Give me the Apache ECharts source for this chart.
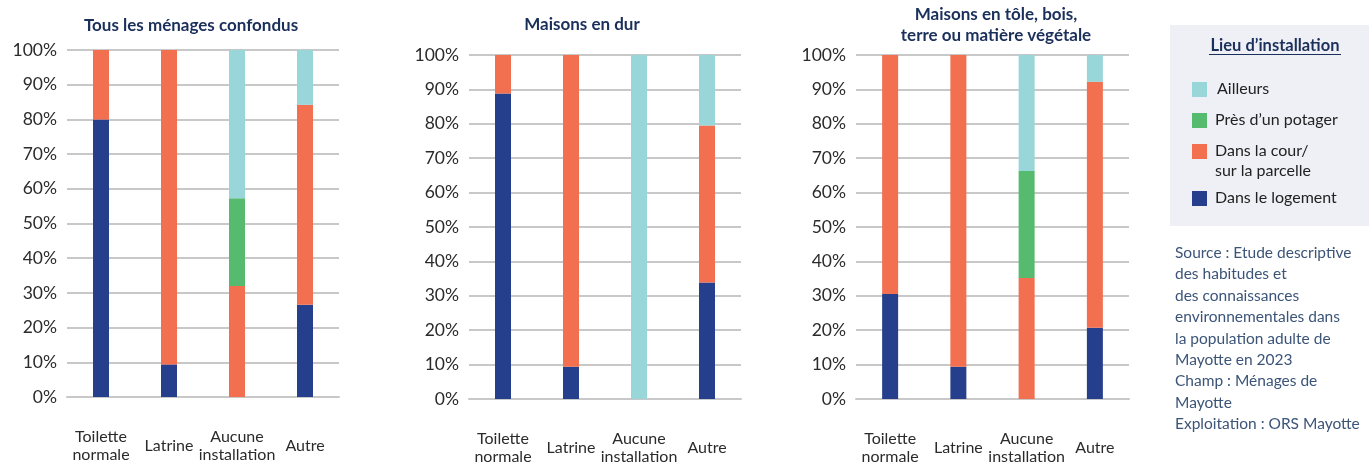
<!DOCTYPE html>
<html>
<head>
<meta charset="utf-8">
<script src="https://cdn.jsdelivr.net/npm/echarts@6/dist/echarts.min.js"></script>
<style>
html,body{margin:0;padding:0;background:#fff;}
#chart{width:1369px;height:466px;}
</style>
</head>
<body>
<div id="chart"></div>
<script>
// ---- DATA ----
const categories = ['Toilette\nnormale', 'Latrine', 'Aucune\ninstallation', 'Autre'];
const yTicks = [0, 10, 20, 30, 40, 50, 60, 70, 80, 90, 100];
const seriesNames = ['Dans le logement', 'Dans la cour/\nsur la parcelle', 'Près d\u2019un potager', 'Ailleurs'];
const panelTitles = ['Tous les ménages confondus', 'Maisons en dur', 'Maisons en tôle, bois,\nterre ou matière végétale'];

// Panel 1 : Tous les ménages confondus
const tousLogement = [80.0, 9.4, 0, 26.6];
const tousCour     = [20.0, 90.6, 32.0, 57.6];
const tousPotager  = [0, 0, 25.3, 0];
const tousAilleurs = [0, 0, 42.7, 15.8];

// Panel 2 : Maisons en dur
const durLogement = [88.8, 9.4, 0, 33.9];
const durCour     = [11.2, 90.6, 0, 45.6];
const durPotager  = [0, 0, 0, 0];
const durAilleurs = [0, 0, 100, 20.5];

// Panel 3 : Maisons en tôle, bois, terre ou matière végétale
const toleLogement = [30.5, 9.4, 0, 20.7];
const toleCour     = [69.5, 90.6, 35.2, 71.5];
const tolePotager  = [0, 0, 31.1, 0];
const toleAilleurs = [0, 0, 33.7, 7.8];

const sourceLines = [
  'Source : Etude descriptive',
  'des habitudes et',
  'des connaissances',
  'environnementales dans',
  'la population adulte de',
  'Mayotte en 2023',
  'Champ : Ménages de',
  'Mayotte',
  'Exploitation : ORS Mayotte'
];
const legendTitle = 'Lieu d\u2019installation';

// ---- STYLE ----
const colors = ['#263f8c', '#f26f50', '#56bb6e', '#98d6d9'];
const FONT = 'Lato, "Open Sans", sans-serif';
const gridColor = '#c8c8c8';

const panels = [
  { data: [tousLogement, tousCour, tousPotager, tousAilleurs], grid: { left: 67, top: 50, width: 272, height: 347 }, titleX: 191, titleY: 15.5 },
  { data: [durLogement, durCour, durPotager, durAilleurs], grid: { left: 469, top: 55, width: 272, height: 347 }, titleX: 582, titleY: 14.5 },
  { data: [toleLogement, toleCour, tolePotager, toleAilleurs], grid: { left: 856, top: 55, width: 273, height: 347 }, titleX: 996, titleY: 4.5 }
];

const grids = [], xAxes = [], yAxes = [], series = [], titles = [];
panels.forEach((p, pi) => {
  grids.push(Object.assign({ containLabel: false }, p.grid));
  titles.push({
    text: panelTitles[pi], left: p.titleX, top: p.titleY, textAlign: 'center', padding: 0,
    textStyle: { fontFamily: FONT, fontWeight: 'bold', fontSize: 17, color: '#1b2f5b', lineHeight: 21 }
  });
  xAxes.push({
    type: 'category', gridIndex: pi, data: categories,
    axisTick: { show: false },
    axisLine: { lineStyle: { color: gridColor, width: 2 } },
    axisLabel: { fontFamily: FONT, fontSize: 16, color: '#2b2b2b', margin: 49, verticalAlign: 'middle', lineHeight: 18, interval: 0 }
  });
  yAxes.push({
    type: 'value', gridIndex: pi, min: yTicks[0], max: yTicks[yTicks.length - 1], interval: 10,
    axisLine: { show: false }, axisTick: { show: false },
    splitLine: { lineStyle: { color: gridColor, width: 2 } },
    axisLabel: { fontFamily: FONT, fontSize: 17.5, color: '#2b2b2b', margin: 10, formatter: v => v + '%' }
  });
  p.data.forEach((arr, si) => {
    series.push({
      type: 'bar', name: seriesNames[si], xAxisIndex: pi, yAxisIndex: pi,
      stack: 'p' + pi, data: arr, barWidth: 16,
      itemStyle: { color: colors[si] }, emphasis: { disabled: true }
    });
  });
});

// Legend (graphic) and source text
const legendOrder = [3, 2, 1, 0];
const legendY = [89, 120, 151, 198];
const graphic = [
  { type: 'rect', shape: { x: 1170, y: 25, width: 199, height: 201 }, style: { fill: '#eef0f5' }, silent: true },
  { type: 'text', x: 1275, y: 46, style: { text: legendTitle, fontFamily: FONT, fontWeight: 'bold', fontSize: 16.5, fill: '#1b2f5b', align: 'center', verticalAlign: 'middle' } },
  { type: 'rect', shape: { x: 1209, y: 54, width: 132, height: 1 }, style: { fill: '#1b2f5b' } }
];
legendOrder.forEach((si, k) => {
  graphic.push({ type: 'rect', shape: { x: 1192, y: legendY[k] - 7, width: 15, height: 15 }, style: { fill: colors[si] } });
  graphic.push({ type: 'text', x: si === 3 ? 1217 : 1215, y: legendY[k] - 10, style: { text: seriesNames[si], fontFamily: FONT, fontSize: 16, fill: '#222', lineHeight: 20, verticalAlign: 'top' } });
});
sourceLines.forEach((line, i) => {
  graphic.push({ type: 'text', x: 1175, y: 253 + i * 21.4, style: { text: line, fontFamily: FONT, fontSize: 15.5, fill: '#3b5478', verticalAlign: 'middle' } });
});

const chart = echarts.init(document.getElementById('chart'), null, { renderer: 'canvas' });
chart.setOption({
  animation: false,
  title: titles,
  grid: grids,
  xAxis: xAxes,
  yAxis: yAxes,
  series: series,
  graphic: graphic
});
</script>
</body>
</html>
